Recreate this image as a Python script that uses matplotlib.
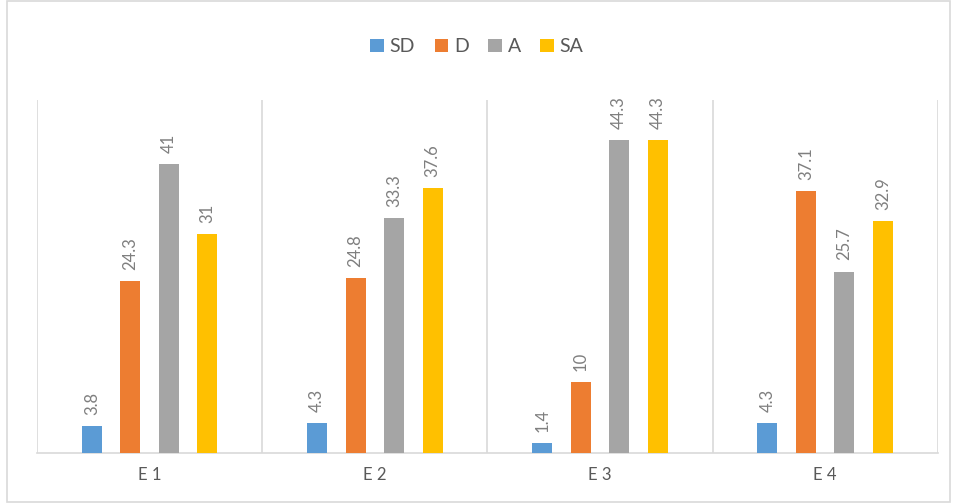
import numpy as np
import matplotlib.pyplot as plt
from matplotlib.patches import Rectangle

plt.rcParams['font.family'] = ['Lato', 'DejaVu Sans']

categories = ["E 1", "E 2", "E 3", "E 4"]
series_names = ["SD", "D", "A", "SA"]
sd = [3.8, 4.3, 1.4, 4.3]
d = [24.3, 24.8, 10, 37.1]
a = [41, 33.3, 44.3, 25.7]
sa = [31, 37.6, 44.3, 32.9]
colors = ["#5B9BD5", "#ED7D31", "#A5A5A5", "#FFC000"]

values = [sd, d, a, sa]

fig = plt.figure(figsize=(9.54, 5.03), dpi=100)
ax = fig.add_axes([0.0388, 0.0994, 0.9442, 0.7016])

x = np.arange(len(categories))
pitch = 0.171
width = 0.089
for i, (name, vals, c) in enumerate(zip(series_names, values, colors)):
    pos = x + (i - 1.5) * pitch
    bars = ax.bar(pos, vals, width=width, color=c, label=name, zorder=3)
    for b, v in zip(bars, vals):
        ax.annotate(f"{v:g}", (b.get_x() + b.get_width() / 2, v),
                    xytext=(0, 8), textcoords="offset points",
                    rotation=90, ha="center", va="bottom",
                    fontsize=12, color="#7F7F7F")

ax.set_xlim(-0.5, len(categories) - 0.5)
ax.set_ylim(0, 50)

# category separators
for xv in np.arange(-0.5, len(categories), 1.0):
    ax.axvline(xv, color="#D9D9D9", linewidth=1.2, zorder=1)

for s in ["top", "right", "left"]:
    ax.spines[s].set_visible(False)
ax.spines["bottom"].set_color("#D9D9D9")
ax.spines["bottom"].set_linewidth(1.2)
ax.set_yticks([])
ax.set_xticks(x)
ax.set_xticklabels(categories, fontsize=12, color="#595959")
ax.tick_params(axis="x", length=0, pad=10)

leg = fig.legend(loc="center", bbox_to_anchor=(0.5, 0.907), ncol=4,
                 frameon=False, fontsize=14, handlelength=0.7,
                 handleheight=0.7, handletextpad=0.3, columnspacing=1.0)
for t in leg.get_texts():
    t.set_color("#595959")

# chart frame
fig.patches.append(Rectangle((0.007, 0.002), 0.989, 0.996, transform=fig.transFigure,
                             fill=False, edgecolor="#D9D9D9", linewidth=1.2))

fig.savefig("out.png", dpi=100)
